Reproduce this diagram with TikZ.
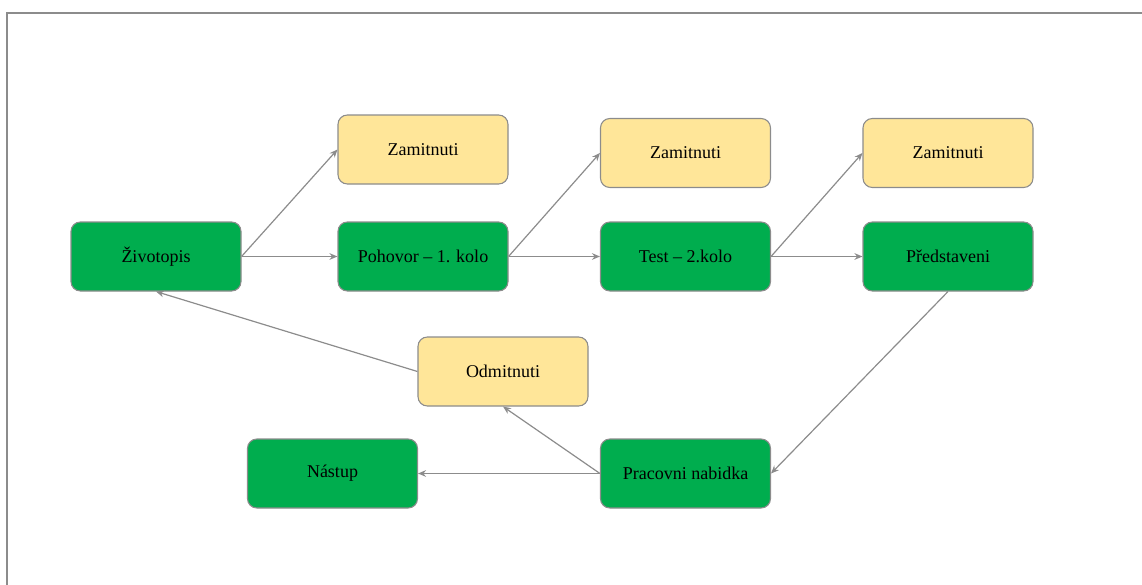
\documentclass[tikz,border=0pt]{standalone}
\usepackage{fontspec}
\setmainfont{Liberation Serif}
\usepackage{xcolor}
\usepackage{tikz}
\usetikzlibrary{arrows.meta,positioning}

\definecolor{stepgreen}{HTML}{00AD4E}
\definecolor{rejectyellow}{HTML}{FFE699}
\definecolor{edgegray}{HTML}{8C8C8C}

\tikzset{
  stage/.style={draw=edgegray, line width=0.8pt, rounded corners=7pt,
    minimum width=127.5pt, minimum height=51.75pt,
    font=\fontsize{13.5}{16}\selectfont},
  okstage/.style={stage, fill=stepgreen},
  nostage/.style={stage, fill=rejectyellow},
  flow/.style={draw=edgegray, line width=0.9pt,
    -{Stealth[length=6pt,width=5pt]}}
}

\begin{document}
\begin{tikzpicture}[x=0.75pt, y=-0.75pt]
        % frame
        \useasboundingbox (0,0) rectangle (1142,585);
        \draw[edgegray, line width=1.5pt] (7,585) -- (7,13) -- (1142,13);

        % main row
        \node[okstage] (cv) at (156,256.5) {Životopis};
        \node[okstage] (round1) at (423,256.5) {Pohovor – 1. kolo};
        \node[okstage] (round2) at (685.5,256.5) {Test – 2.kolo};
        \node[okstage] (intro) at (948,256.5) {Představeni};

        % rejections
        \node[nostage] (rej1) at (423,149.5) {Zamitnuti};
        \node[nostage] (rej2) at (685.5,153) {Zamitnuti};
        \node[nostage] (rej3) at (948,153) {Zamitnuti};

        % bottom part
        \node[nostage] (decline) at (503,371.5) {Odmitnuti};
        \node[okstage] (start) at (332.5,473.5) {Nástup};
        \node[okstage] (offer) at (685.5,473.5) {Pracovni nabidka};

        % connectors
        \draw[flow] (cv.east) -- (round1.west);
        \draw[flow] (cv.east) -- (rej1.west);
        \draw[flow] (round1.east) -- (round2.west);
        \draw[flow] (round1.east) -- (rej2.west);
        \draw[flow] (round2.east) -- (intro.west);
        \draw[flow] (round2.east) -- (rej3.west);
        \draw[flow] (intro.south) -- (offer.east);
        \draw[flow] (offer.west) -- (start.east);
        \draw[flow] (offer.west) -- (decline.south);
        \draw[flow] (decline.west) -- (cv.south);
\end{tikzpicture}
\end{document}
